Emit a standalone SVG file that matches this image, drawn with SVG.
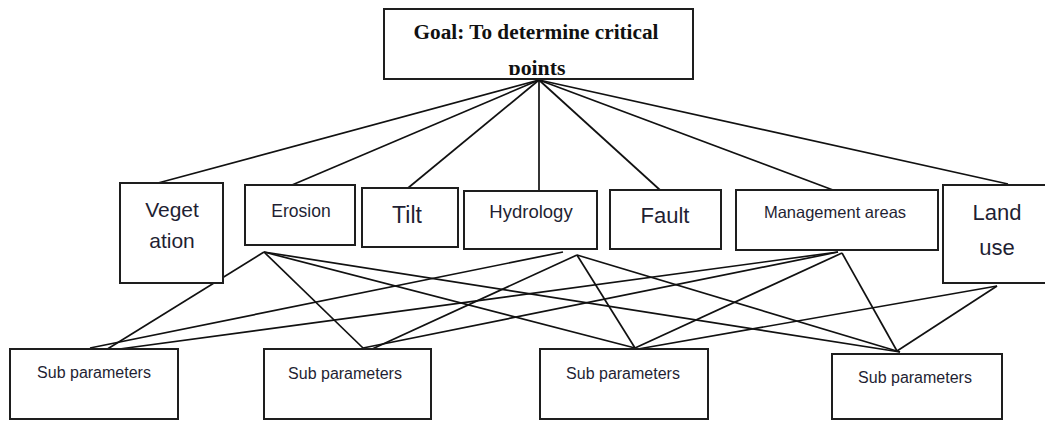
<svg xmlns="http://www.w3.org/2000/svg" width="1045" height="421" viewBox="0 0 1045 421">
  <defs>
    <style>
      .box { fill: #ffffff; stroke: #1e1e1e; stroke-width: 2; }
      .lbl { font-family: "Liberation Sans", Arial, sans-serif; fill: #1f1f33; text-anchor: middle; }
      .goal { font-family: "Liberation Serif", "Times New Roman", serif; font-weight: bold; fill: #111111; text-anchor: middle; font-size: 20px; }
      .conn line { stroke: #111111; stroke-width: 1.7; fill: none; }
    </style>
    <clipPath id="goalClip">
      <rect x="384" y="9" width="309" height="66"/>
    </clipPath>
  </defs>
  <rect x="0" y="0" width="1045" height="421" fill="#ffffff"/>

  <g id="connectors" class="conn">
    <!-- goal to parameters -->
    <line x1="539" y1="80" x2="158" y2="183"/>
    <line x1="539" y1="80" x2="292" y2="185"/>
    <line x1="539" y1="80" x2="408" y2="188"/>
    <line x1="539" y1="80" x2="539" y2="191"/>
    <line x1="539" y1="80" x2="660" y2="190"/>
    <line x1="539" y1="80" x2="833" y2="190"/>
    <line x1="539" y1="80" x2="1008" y2="184"/>
    <!-- erosion to sub parameters -->
    <line x1="264" y1="252" x2="101" y2="353"/>
    <line x1="264" y1="252" x2="363" y2="348"/>
    <line x1="264" y1="252" x2="635" y2="348"/>
    <line x1="264" y1="252" x2="900" y2="352"/>
    <!-- hydrology to sub parameters -->
    <line x1="563" y1="252" x2="90" y2="348"/>
    <line x1="577" y1="255" x2="370" y2="350"/>
    <line x1="577" y1="255" x2="635" y2="348"/>
    <line x1="577" y1="255" x2="900" y2="352"/>
    <!-- management areas to sub parameters -->
    <line x1="838" y1="252" x2="112" y2="350"/>
    <line x1="838" y1="252" x2="363" y2="348"/>
    <line x1="842" y1="253" x2="635" y2="348"/>
    <line x1="842" y1="253" x2="897" y2="351"/>
    <!-- land use to sub parameters -->
    <line x1="997" y1="286" x2="638" y2="349"/>
    <line x1="997" y1="286" x2="897" y2="351"/>
  </g>

  <g id="goal">
    <rect class="box" x="384" y="9" width="309" height="70"/>
    <g clip-path="url(#goalClip)">
      <text class="goal" x="536" y="39" textLength="245" lengthAdjust="spacingAndGlyphs">Goal: To determine critical</text>
      <text class="goal" x="537" y="75" textLength="57" lengthAdjust="spacingAndGlyphs">points</text>
    </g>
  </g>

  <g id="vegetation">
    <rect class="box" x="120" y="183" width="103" height="100"/>
    <text class="lbl" x="172" y="217" font-size="21">Veget</text>
    <text class="lbl" x="172" y="248" font-size="21">ation</text>
  </g>
  <g id="erosion">
    <rect class="box" x="245" y="185" width="110" height="60"/>
    <text class="lbl" x="301" y="217" font-size="17.5">Erosion</text>
  </g>
  <g id="tilt">
    <rect class="box" x="362" y="188" width="96" height="59"/>
    <text class="lbl" x="407" y="223" font-size="23">Tilt</text>
  </g>
  <g id="hydrology">
    <rect class="box" x="464" y="191" width="133" height="58"/>
    <text class="lbl" x="531" y="218" font-size="18.5">Hydrology</text>
  </g>
  <g id="fault">
    <rect class="box" x="610" y="190" width="111" height="59"/>
    <text class="lbl" x="665" y="223" font-size="22">Fault</text>
  </g>
  <g id="management-areas">
    <rect class="box" x="736" y="190" width="202" height="60"/>
    <text class="lbl" x="835" y="218" font-size="16.5">Management areas</text>
  </g>
  <g id="land-use">
    <rect class="box" x="943" y="185" width="110" height="98"/>
    <text class="lbl" x="997" y="220" font-size="22">Land</text>
    <text class="lbl" x="997" y="255" font-size="22">use</text>
  </g>

  <g id="sub-parameters-1">
    <rect class="box" x="10" y="349" width="168" height="70"/>
    <text class="lbl" x="94" y="378" font-size="16">Sub parameters</text>
  </g>
  <g id="sub-parameters-2">
    <rect class="box" x="264" y="349" width="167" height="70"/>
    <text class="lbl" x="345" y="379" font-size="16">Sub parameters</text>
  </g>
  <g id="sub-parameters-3">
    <rect class="box" x="540" y="349" width="168" height="70"/>
    <text class="lbl" x="623" y="379" font-size="16">Sub parameters</text>
  </g>
  <g id="sub-parameters-4">
    <rect class="box" x="832" y="354" width="170" height="65"/>
    <text class="lbl" x="915" y="383" font-size="16">Sub parameters</text>
  </g>
</svg>
